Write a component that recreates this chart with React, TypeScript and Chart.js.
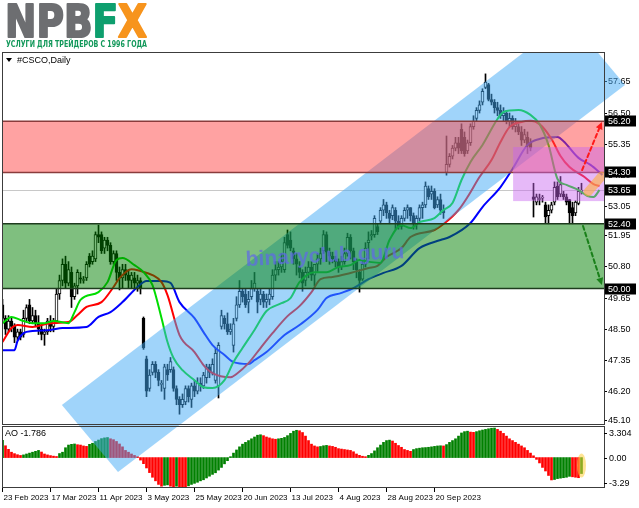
import React, { useEffect, useRef } from 'react';
import { Chart, registerables } from 'chart.js';

Chart.register(...registerables);

// ---------- texts ----------
const SYMBOL_LABEL = '#CSCO,Daily';
const AO_LABEL = 'AO -1.786';
const LOGO_PARTS: [string, string][] = [['NPB', '#6d6e71'], ['F', '#0e9f6e'], ['X', '#f7941d']];
const LOGO_TAGLINE = 'УСЛУГИ ДЛЯ ТРЕЙДЕРОВ С 1996 ГОДА';
const WATERMARK = 'binaryclub.guru';

// ---------- axes ----------
const TICK_BARS = [0, 16, 32, 48, 64, 80, 96, 112, 128, 144];
const X_TICK_LABELS = ['23 Feb 2023', '17 Mar 2023', '11 Apr 2023', '3 May 2023', '25 May 2023', '20 Jun 2023', '13 Jul 2023', '4 Aug 2023', '28 Aug 2023', '20 Sep 2023'];
const PRICE_TICKS = [57.65, 56.5, 55.35, 54.2, 53.05, 51.95, 50.8, 49.65, 48.5, 47.35, 46.2, 45.1];
const LEVELS = [56.2, 54.3, 53.65, 52.4, 50.0];
const BID = 53.65;
const AO_TICKS = [3.304, 0, -3.29];
const AO_TICK_LABELS = ['3.304', '0.00', '-3.29'];

// ---------- candles: [open, high, low, close], one per daily bar ----------
const CANDLES: number[][] = [
  [49.4, 49.6, 48.8, 48.9], [48.9, 49.0, 48.3, 48.5], [48.5, 49.0, 48.4, 48.8], [48.8, 48.9, 48.4, 48.6],
  [48.6, 48.7, 48.0, 48.2], [48.2, 48.5, 48.1, 48.4], [48.4, 48.5, 48.1, 48.2], [48.3, 49.2, 48.2, 48.9],
  [48.9, 49.4, 48.8, 49.3], [49.4, 49.6, 48.7, 48.8], [48.8, 49.3, 48.7, 49.0], [49.0, 49.2, 48.6, 48.7],
  [48.7, 49.0, 48.3, 48.5], [48.5, 48.7, 48.1, 48.3], [48.3, 48.5, 47.9, 48.4], [48.4, 48.9, 48.3, 48.8],
  [48.8, 49.0, 48.4, 48.6], [48.6, 48.9, 48.4, 48.8], [48.8, 50.0, 48.7, 49.8], [49.8, 50.5, 49.6, 50.3],
  [50.3, 51.1, 50.1, 50.9], [50.9, 51.2, 50.0, 50.2], [50.2, 51.0, 50.1, 50.7], [50.6, 50.8, 49.3, 49.7],
  [49.7, 50.2, 49.6, 50.1], [50.1, 50.7, 49.8, 50.6], [50.4, 50.6, 50.2, 50.35], [50.3, 50.45, 50.2, 50.3],
  [50.4, 51.0, 50.3, 50.9], [51.2, 51.3, 50.8, 50.9], [51.0, 51.4, 50.9, 51.2], [51.1, 52.1, 51.0, 52.0],
  [52.0, 52.35, 51.7, 51.9], [52.0, 52.1, 51.3, 51.4], [51.5, 51.9, 51.3, 51.8], [51.8, 51.9, 51.4, 51.6],
  [51.6, 51.7, 50.9, 51.0], [51.0, 51.4, 50.9, 51.3], [51.3, 51.4, 50.3, 50.6], [50.6, 50.8, 49.95, 50.4],
  [50.4, 50.9, 50.0, 50.7], [50.7, 50.9, 50.3, 50.5], [50.5, 50.7, 50.0, 50.3], [50.3, 50.6, 50.0, 50.5],
  [50.4, 50.6, 50.0, 50.2], [50.2, 50.5, 49.9, 50.3], [50.3, 50.4, 49.8, 50.0], [48.9, 48.95, 47.75, 47.8],
  [47.4, 47.5, 46.0, 46.2], [46.3, 47.0, 46.2, 46.8], [46.9, 47.3, 46.8, 47.2], [47.2, 47.3, 46.7, 46.9],
  [46.9, 47.0, 46.4, 46.6], [46.45, 46.6, 46.2, 46.5], [46.3, 47.2, 45.9, 47.1], [47.0, 47.2, 46.6, 46.8],
  [47.0, 47.45, 46.9, 47.3], [47.0, 47.1, 46.2, 46.3], [46.3, 46.4, 45.7, 45.9], [45.9, 46.0, 45.35, 45.7],
  [45.7, 46.1, 45.6, 45.9], [45.8, 46.4, 45.7, 46.3], [46.3, 46.4, 45.8, 46.0], [45.9, 46.5, 45.6, 46.4],
  [46.4, 46.6, 46.0, 46.2], [46.2, 46.7, 46.1, 46.5], [46.5, 46.7, 46.2, 46.4], [46.4, 46.9, 46.3, 46.8],
  [46.7, 47.2, 46.5, 47.1], [47.1, 47.2, 46.7, 46.9], [46.9, 47.4, 46.8, 47.2], [46.6, 47.8, 46.5, 47.6],
  [46.4, 48.0, 45.95, 47.9], [48.6, 49.2, 48.5, 49.0], [48.9, 49.0, 48.5, 48.7], [48.7, 49.1, 48.3, 48.4],
  [48.4, 48.7, 48.3, 48.5], [47.9, 48.9, 47.65, 48.7], [48.9, 49.7, 48.8, 49.4], [49.4, 50.3, 49.3, 49.9],
  [49.9, 50.0, 49.5, 49.7], [49.8, 50.0, 49.3, 49.4], [49.5, 49.9, 49.1, 49.6], [49.7, 50.3, 49.6, 50.0],
  [50.0, 50.6, 49.9, 50.2], [49.9, 50.0, 49.1, 49.5], [49.6, 50.0, 49.4, 49.8], [49.8, 49.9, 49.3, 49.5],
  [49.5, 49.8, 49.3, 49.6], [49.6, 50.0, 49.4, 49.8], [49.7, 50.7, 49.6, 50.5], [50.5, 51.0, 50.3, 50.7],
  [50.7, 51.0, 50.5, 50.8], [50.8, 51.3, 50.6, 51.0], [50.7, 51.9, 50.6, 51.7], [52.0, 52.17, 51.5, 51.6],
  [51.8, 52.1, 51.4, 51.5], [51.4, 51.5, 50.9, 51.1], [51.1, 51.3, 50.5, 50.9], [50.8, 51.0, 50.4, 50.6],
  [50.6, 50.7, 49.9, 50.2], [50.3, 50.8, 50.1, 50.6], [50.6, 51.0, 50.4, 50.8], [50.8, 51.0, 50.3, 50.5],
  [50.5, 50.9, 50.1, 50.9], [50.9, 51.3, 50.6, 51.1], [51.1, 51.5, 50.9, 51.3], [51.4, 52.15, 51.3, 52.0],
  [52.0, 52.1, 51.0, 51.35], [51.35, 51.5, 50.9, 51.2], [51.2, 51.35, 50.95, 51.1], [51.1, 51.2, 50.8, 51.0],
  [51.0, 51.1, 50.6, 50.8], [50.8, 51.2, 50.7, 51.0], [51.0, 51.5, 50.9, 51.3], [51.3, 52.05, 51.2, 51.9],
  [51.9, 52.0, 51.1, 51.4], [51.4, 51.5, 50.7, 51.0], [51.0, 51.1, 50.4, 50.7], [50.6, 50.7, 49.87, 50.3],
  [50.35, 51.0, 50.3, 50.9], [50.9, 51.7, 50.8, 51.5], [51.7, 52.1, 51.1, 51.8], [51.95, 52.15, 51.8, 52.0],
  [52.0, 52.7, 51.9, 52.6], [52.3, 52.4, 52.0, 52.1], [52.5, 53.0, 52.4, 52.9], [52.9, 53.3, 52.7, 53.1],
  [53.1, 53.2, 52.6, 52.8], [52.8, 52.9, 52.4, 52.6], [52.7, 53.1, 52.55, 53.0], [52.9, 53.0, 52.2, 52.5],
  [52.5, 52.7, 52.2, 52.3], [52.3, 52.7, 52.2, 52.6], [52.6, 53.0, 52.5, 52.9], [52.9, 53.1, 52.6, 53.0],
  [53.0, 53.0, 52.5, 52.7], [52.7, 52.8, 52.2, 52.4], [52.4, 52.7, 52.2, 52.6], [52.6, 53.1, 52.5, 53.0],
  [53.0, 53.2, 52.6, 53.1], [53.1, 53.95, 53.0, 53.8], [53.7, 53.8, 53.3, 53.4], [53.5, 53.8, 53.3, 53.6],
  [53.6, 53.7, 52.95, 53.0], [53.1, 53.4, 53.0, 53.3], [53.3, 53.5, 52.75, 52.9], [52.9, 53.1, 52.6, 52.8],
  [54.3, 55.65, 54.2, 54.6], [54.6, 55.0, 54.5, 54.9], [54.9, 55.3, 54.8, 55.2], [55.2, 55.6, 55.1, 55.4],
  [55.4, 55.6, 55.0, 55.2], [55.9, 56.1, 55.0, 55.1], [55.6, 55.8, 54.9, 55.0], [55.1, 55.5, 55.0, 55.4],
  [55.4, 56.1, 55.3, 56.0], [56.0, 56.4, 55.9, 56.2], [56.3, 56.7, 56.2, 56.6], [56.6, 56.95, 56.5, 56.8],
  [56.9, 57.4, 56.8, 57.3], [57.45, 57.95, 57.4, 57.65], [57.55, 57.6, 56.95, 57.0], [57.0, 57.2, 56.8, 56.9],
  [56.9, 57.0, 56.5, 56.7], [56.7, 56.9, 56.4, 56.6], [56.6, 56.8, 56.3, 56.4], [56.4, 56.7, 56.2, 56.5],
  [56.5, 56.6, 56.1, 56.2], [56.2, 56.5, 56.0, 56.3], [56.3, 56.4, 55.9, 56.0], [56.0, 56.3, 55.8, 56.1],
  [56.0, 56.1, 55.7, 55.8], [55.8, 56.0, 55.3, 55.5], [55.5, 55.9, 55.4, 55.7], [55.6, 55.8, 55.0, 55.3],
  [55.4, 55.55, 55.1, 55.2], [53.4, 53.9, 52.65, 53.3], [53.2, 53.5, 53.1, 53.4], [53.3, 53.5, 53.1, 53.3],
  [53.35, 53.45, 53.2, 53.35], [53.1, 53.2, 52.43, 52.65], [52.7, 53.1, 52.4, 52.9], [52.9, 53.2, 52.8, 53.1],
  [53.2, 53.95, 53.1, 53.75], [53.8, 53.95, 53.3, 53.4], [53.5, 54.15, 53.4, 53.85], [53.5, 53.6, 53.3, 53.4],
  [53.4, 53.5, 53.1, 53.2], [53.3, 53.3, 52.4, 52.8], [53.0, 53.2, 52.4, 52.7], [52.8, 53.25, 52.7, 53.2],
  [53.15, 53.75, 53.1, 53.6], [53.6, 53.9, 53.5, 53.65],
];

// ---------- Alligator lines: [bar, price] ----------
const JAW: [number, number][] = [
  [0, 47.72], [4, 47.72], [5, 48.06], [7, 48.35], [10, 48.43], [16, 48.47], [20, 48.54], [28, 48.58], [32, 48.95],
  [36, 49.13], [40, 49.5], [45, 50.06], [48, 50.28], [53, 50.28], [56, 50.21], [59, 49.5], [64, 48.91], [67, 48.39],
  [70, 47.91], [74, 47.54], [77, 47.28], [82, 47.21], [84, 47.35], [88, 47.65], [94, 48.28], [99, 48.65], [105, 49.21],
  [108, 49.65], [113, 49.84], [117, 50.02], [122, 50.35], [127, 50.58], [133, 50.84], [139, 51.5], [146, 51.8],
  [149, 51.91], [156, 52.43], [160, 53.02], [166, 53.76], [170, 54.43], [175, 55.32], [179, 55.54], [185, 55.61],
  [187, 55.46], [192, 54.84], [196, 54.58], [200, 54.21],
];
const TEETH: [number, number][] = [
  [0, 48.02], [3, 48.54], [5, 48.65], [10, 48.58], [16, 48.72], [22, 48.76], [25, 49.02], [28, 49.32], [33, 49.5],
  [37, 50.06], [39, 50.39], [43, 50.72], [46, 50.65], [50, 50.5], [53, 50.24], [55, 49.76], [59, 48.28], [64, 47.65],
  [67, 47.17], [70, 46.87], [76, 46.72], [78, 46.84], [82, 47.24], [86, 47.8], [90, 48.35], [95, 48.98], [99, 49.35],
  [103, 49.87], [106, 50.35], [110, 50.43], [116, 50.58], [122, 50.76], [125, 50.84], [128, 51.17], [133, 51.5],
  [136, 51.91], [144, 52.17], [147, 52.39], [152, 52.91], [155, 53.39], [159, 54.13], [163, 54.76], [166, 55.43],
  [169, 55.98], [173, 56.17], [176, 56.21], [179, 56.09], [183, 55.54], [186, 54.91], [189, 54.5], [194, 54.13],
  [197, 53.87], [199, 53.8],
];
const LIPS: [number, number][] = [
  [0, 48.72], [3, 48.95], [6, 48.84], [10, 48.72], [14, 48.72], [17, 48.8], [22, 48.72], [24, 49.13], [26, 49.58],
  [32, 49.87], [35, 50.24], [38, 51.06], [40, 51.13], [44, 50.87], [47, 50.61], [50, 50.13], [53, 48.91], [55, 48.02],
  [57, 47.43], [60, 46.98], [64, 46.61], [67, 46.35], [70, 46.32], [74, 46.61], [77, 47.28], [80, 47.8], [84, 48.47],
  [88, 49.17], [93, 49.46], [96, 49.65], [99, 50.24], [104, 50.61], [108, 50.61], [112, 50.8], [116, 50.87],
  [119, 51.06], [123, 50.98], [126, 50.95], [129, 51.8], [133, 52.35], [136, 52.24], [139, 52.46], [144, 52.61],
  [147, 52.91], [150, 53.17], [153, 54.02], [156, 54.69], [160, 55.32], [165, 56.28], [167, 56.54], [172, 56.61],
  [176, 56.43], [179, 56.09], [182, 55.32], [185, 54.06], [188, 53.84], [192, 53.65], [195, 53.43], [197, 53.39],
  [199, 53.65],
];

// ---------- Awesome Oscillator, one per bar ----------
const AO: number[] = [
  1.92, 1.32, 0.92, 0.6, 0.44, 0.32, 0.24, 0.3, 0.4, 0.5, 0.6, 0.7, 0.8, 0.62, 0.4, 0.3, 0.22, 0.16, 0.12, 0.45,
  0.6, 1.1, 1.4, 1.48, 1.52, 1.44, 1.4, 1.3, 1.25, 1.48, 1.6, 1.8, 1.96, 2.12, 2.2, 2.24, 2.1, 2.0, 1.8, 1.52,
  1.2, 0.8, 0.6, 0.4, 0.24, 0.1, -0.28, -0.68, -1.16, -1.68, -2.2, -2.6, -3.0, -3.2, -3.1, -3.05, -3.2, -3.29, -3.2, -3.25,
  -3.28, -3.29, -3.16, -3.0, -2.88, -2.76, -2.6, -2.48, -2.28, -2.08, -1.88, -1.7, -1.4, -1.1, -0.7, -0.35, 0.1, 0.5, 0.85, 1.2,
  1.5, 1.7, 1.9, 2.1, 2.3, 2.5, 2.55, 2.45, 2.3, 2.2, 2.1, 2.05, 2.1, 2.15, 2.25, 2.45, 2.7, 2.95, 3.05, 3.0,
  2.8, 2.4, 1.9, 1.5, 1.3, 1.2, 1.24, 1.32, 1.36, 1.3, 1.25, 1.15, 1.0, 0.95, 0.9, 0.85, 0.8, 0.65, 0.4, 0.25,
  0.15, 0.1, 0.25, 0.45, 0.75, 1.1, 1.4, 1.7, 1.9, 1.95, 1.85, 1.6, 1.35, 1.15, 0.9, 0.8, 0.7, 0.9, 1.0, 1.05,
  1.1, 1.12, 1.15, 1.2, 1.25, 1.3, 1.32, 1.3, 1.45, 1.7, 1.9, 2.1, 2.4, 2.75, 2.9, 2.95, 2.85, 2.82, 2.9, 3.0,
  3.08, 3.15, 3.22, 3.28, 3.304, 3.15, 2.95, 2.7, 2.4, 2.1, 1.9, 1.7, 1.5, 1.3, 1.1, 0.8, 0.5, 0.2, -0.2, -0.6,
  -1.1, -1.5, -2.0, -2.5, -2.45, -2.35, -2.3, -2.25, -2.2, -2.1, -2.15, -2.2, -2.25, -1.786,
];

// ---------- drawn objects (bar index, price) ----------
const RED_ZONE = [54.3, 56.2];
const GREEN_ZONE = [50.0, 52.4];
const VIOLET_BOX = [170.2, 201, 53.24, 55.24];
const CHANNEL: [number, number][] = [[19.8, 45.69], [38.5, 43.21], [207.5, 57.54], [188.8, 60.02]];
const RED_ARROW: [number, number][] = [[193.2, 54.39], [199.8, 56.17]];
const GREEN_ARROW: [number, number][] = [[193.5, 52.32], [199.8, 50.13]];
const ORANGE_MARK: [number, number][] = [[195.2, 53.58], [199.8, 54.17]];
const WATERMARK_AT: [number, number] = [107.5, 51.2];

const FONT = '"Liberation Sans", Arial, sans-serif';

function drawArrow(ctx: CanvasRenderingContext2D, x1: number, y1: number, x2: number, y2: number, color: string) {
  const ang = Math.atan2(y2 - y1, x2 - x1);
  const head = 8;
  ctx.save();
  ctx.strokeStyle = color;
  ctx.fillStyle = color;
  ctx.lineWidth = 2;
  ctx.setLineDash([4, 3]);
  ctx.beginPath();
  ctx.moveTo(x1, y1);
  ctx.lineTo(x2 - Math.cos(ang) * head * 0.8, y2 - Math.sin(ang) * head * 0.8);
  ctx.stroke();
  ctx.setLineDash([]);
  ctx.beginPath();
  ctx.moveTo(x2, y2);
  ctx.lineTo(x2 - head * Math.cos(ang - 0.45), y2 - head * Math.sin(ang - 0.45));
  ctx.lineTo(x2 - head * Math.cos(ang + 0.45), y2 - head * Math.sin(ang + 0.45));
  ctx.closePath();
  ctx.fill();
  ctx.restore();
}

const overlayPlugin = {
  id: 'mt4overlay',
  beforeDraw(chart: any) {
    const { ctx } = chart;
    ctx.save();
    ctx.fillStyle = '#ffffff';
    ctx.fillRect(0, 0, chart.width, chart.height);
    ctx.restore();
  },
  beforeDatasetsDraw(chart: any) {
    const { ctx, chartArea: ca, scales } = chart;
    const y = Math.round(scales.y.getPixelForValue(BID)) + 0.5;
    ctx.save();
    ctx.strokeStyle = '#c8c8c8';
    ctx.lineWidth = 1;
    ctx.beginPath();
    ctx.moveTo(ca.left, y);
    ctx.lineTo(ca.right, y);
    ctx.stroke();
    ctx.restore();
  },
  afterDatasetsDraw(chart: any) {
    const { ctx, chartArea: ca, scales } = chart;
    const sx = scales.x;
    const sy = scales.y;
    const px = (b: number) => sx.getPixelForValue(b);
    const py = (p: number) => sy.getPixelForValue(p);

    // channel
    ctx.save();
    ctx.beginPath();
    ctx.rect(ca.left, ca.top, chart.width - ca.left, ca.bottom - ca.top);
    ctx.clip();
    ctx.fillStyle = 'rgba(66,170,245,0.5)';
    ctx.beginPath();
    CHANNEL.forEach(([b, p], k) => (k ? ctx.lineTo(px(b), py(p)) : ctx.moveTo(px(b), py(p))));
    ctx.closePath();
    ctx.fill();
    ctx.restore();

    // main-pane objects
    ctx.save();
    ctx.beginPath();
    ctx.rect(ca.left, ca.top, ca.right - ca.left, sy.bottom - ca.top);
    ctx.clip();
    const zone = (z: number[], fill: string, stroke: string) => {
      const t = py(z[1]);
      const b = py(z[0]);
      ctx.fillStyle = fill;
      ctx.fillRect(ca.left, t, ca.right - ca.left, b - t);
      ctx.strokeStyle = stroke;
      ctx.lineWidth = 1.5;
      ctx.beginPath();
      ctx.moveTo(ca.left, t);
      ctx.lineTo(ca.right, t);
      ctx.moveTo(ca.left, b);
      ctx.lineTo(ca.right, b);
      ctx.stroke();
    };
    zone(RED_ZONE, 'rgba(255,70,70,0.5)', '#8a3c3c');
    zone(GREEN_ZONE, 'rgba(0,128,0,0.5)', '#1e3c1e');

    ctx.fillStyle = 'rgba(200,100,240,0.45)';
    ctx.fillRect(px(VIOLET_BOX[0]), py(VIOLET_BOX[3]), px(VIOLET_BOX[1]) - px(VIOLET_BOX[0]), py(VIOLET_BOX[2]) - py(VIOLET_BOX[3]));

    // watermark
    ctx.save();
    ctx.translate(px(WATERMARK_AT[0]), py(WATERMARK_AT[1]));
    ctx.rotate(-0.05);
    ctx.font = `bold 21px ${FONT}`;
    ctx.fillStyle = 'rgba(95,105,230,0.72)';
    ctx.textAlign = 'center';
    ctx.textBaseline = 'middle';
    ctx.fillText(WATERMARK, 0, 0);
    ctx.restore();

    // orange mark
    ctx.strokeStyle = 'rgba(255,175,60,0.6)';
    ctx.lineWidth = 9;
    ctx.lineCap = 'round';
    ctx.beginPath();
    ctx.moveTo(px(ORANGE_MARK[0][0]), py(ORANGE_MARK[0][1]));
    ctx.lineTo(px(ORANGE_MARK[1][0]), py(ORANGE_MARK[1][1]));
    ctx.stroke();

    drawArrow(ctx, px(RED_ARROW[0][0]), py(RED_ARROW[0][1]), px(RED_ARROW[1][0]), py(RED_ARROW[1][1]), '#ff1a1a');
    drawArrow(ctx, px(GREEN_ARROW[0][0]), py(GREEN_ARROW[0][1]), px(GREEN_ARROW[1][0]), py(GREEN_ARROW[1][1]), '#1a801a');
    ctx.restore();

    // AO last-bar highlight
    const sa = scales.yAO;
    const last = AO.length - 1;
    const y0 = sa.getPixelForValue(0);
    const y1 = sa.getPixelForValue(AO[last]);
    ctx.save();
    ctx.fillStyle = 'rgba(255,205,60,0.55)';
    ctx.beginPath();
    ctx.ellipse(px(last), (y0 + y1) / 2, 4.5, Math.abs(y1 - y0) / 2 + 4, 0, 0, Math.PI * 2);
    ctx.fill();
    ctx.restore();
  },
  afterDraw(chart: any) {
    const { ctx, chartArea: ca, scales } = chart;
    const sy = scales.y;
    const sa = scales.yAO;
    ctx.save();

    // frames
    ctx.strokeStyle = '#3c3c3c';
    ctx.lineWidth = 1;
    ctx.strokeRect(ca.left + 0.5, ca.top + 0.5, ca.right - ca.left, Math.round(sy.bottom) - ca.top - 1);
    ctx.strokeRect(ca.left + 0.5, Math.round(sa.top) + 1.5, ca.right - ca.left, Math.round(sa.bottom) - Math.round(sa.top) - 2);

    // level boxes
    ctx.font = `9px ${FONT}`;
    ctx.textBaseline = 'middle';
    ctx.textAlign = 'left';
    LEVELS.forEach((v) => {
      const y = Math.round(sy.getPixelForValue(v));
      ctx.fillStyle = '#000';
      ctx.fillRect(ca.right + 1, y - 5.5, 31, 11);
      ctx.fillStyle = '#fff';
      ctx.fillText(v.toFixed(2), ca.right + 4, y + 0.5);
    });

    // AO labels
    const offs = [5, 0, -4];
    AO_TICKS.forEach((v, k) => {
      const y = Math.round(sa.getPixelForValue(v)) + offs[k];
      ctx.fillStyle = '#000';
      ctx.fillRect(ca.right, y, 3, 1);
      ctx.fillText(AO_TICK_LABELS[k], ca.right + 5, y + 0.5);
    });

    // header texts
    ctx.fillStyle = '#000';
    ctx.beginPath();
    ctx.moveTo(6, 58);
    ctx.lineTo(12, 58);
    ctx.lineTo(9, 62);
    ctx.closePath();
    ctx.fill();
    ctx.fillText(SYMBOL_LABEL, 17, 60.5);
    ctx.fillText(AO_LABEL, 5, Math.round(sa.top) + 9);

    // logo
    ctx.font = `bold 44px "DejaVu Sans", sans-serif`;
    ctx.textBaseline = 'alphabetic';
    const total = LOGO_PARTS.reduce((s, [t]) => s + ctx.measureText(t).width, 0);
    ctx.save();
    ctx.translate(5, 37);
    ctx.scale(142 / total, 1);
    let xx = 0;
    LOGO_PARTS.forEach(([t, c]) => {
      ctx.fillStyle = c;
      ctx.strokeStyle = c;
      ctx.lineWidth = 2;
      ctx.lineJoin = 'round';
      ctx.strokeText(t, xx, 0);
      ctx.fillText(t, xx, 0);
      xx += ctx.measureText(t).width;
    });
    ctx.restore();
    ctx.font = `bold 8.5px "DejaVu Sans", sans-serif`;
    const tw = ctx.measureText(LOGO_TAGLINE).width;
    ctx.save();
    ctx.translate(6, 47);
    ctx.scale(141 / tw, 1);
    ctx.fillStyle = '#12985a';
    ctx.fillText(LOGO_TAGLINE, 0, 0);
    ctx.restore();

    ctx.restore();
  },
};

export default function App() {
  const ref = useRef<HTMLCanvasElement>(null);

  useEffect(() => {
    const canvas = ref.current;
    if (!canvas) return;

    const bodies = CANDLES.map((c, i) => ({ x: i, y: [c[0], c[3]] }));
    const bodyColors = CANDLES.map((c) => (c[3] >= c[0] ? '#ffffff' : '#000000'));
    const wicks = CANDLES.map((c, i) => ({ x: i, y: [c[2], c[1]] }));
    const aoData = AO.map((v, i) => ({ x: i, y: v }));
    const aoColors = AO.map((v, i) => (i === 0 || v >= AO[i - 1] ? '#008000' : '#ff0000'));
    const line = (pts: [number, number][], color: string) => ({
      type: 'line' as const,
      data: pts.map(([b, p]) => ({ x: b, y: p })),
      borderColor: color,
      borderWidth: 2,
      pointRadius: 0,
      cubicInterpolationMode: 'monotone' as const,
      yAxisID: 'y',
      order: 0,
    });

    const chart = new Chart(canvas, {
      type: 'bar',
      data: {
        datasets: [
          line(LIPS, '#00dd00') as any,
          line(TEETH, '#ff0000') as any,
          line(JAW, '#0000ff') as any,
          {
            type: 'bar',
            data: bodies as any,
            backgroundColor: bodyColors,
            borderColor: '#000000',
            borderWidth: 1,
            borderSkipped: false,
            barThickness: 3,
            minBarLength: 1,
            grouped: false,
            yAxisID: 'y',
            order: 1,
          },
          {
            type: 'bar',
            data: wicks as any,
            backgroundColor: '#000000',
            barThickness: 1,
            grouped: false,
            yAxisID: 'y',
            order: 2,
          },
          {
            type: 'bar',
            data: aoData as any,
            backgroundColor: aoColors,
            barThickness: 2,
            grouped: false,
            yAxisID: 'yAO',
            order: 3,
          },
        ],
      },
      options: {
        animation: false,
        responsive: false,
        maintainAspectRatio: false,
        events: [],
        layout: { padding: { left: 2, top: 52, right: 0, bottom: 0 } },
        plugins: { legend: { display: false }, tooltip: { enabled: false } },
        scales: {
          x: {
            type: 'linear',
            min: -1 / 6,
            max: 200.5,
            offset: false,
            bounds: 'data',
            grid: { display: true, offset: false, drawOnChartArea: false, drawTicks: true, tickLength: 4, color: '#000' },
            border: { display: false },
            ticks: {
              autoSkip: false,
              maxRotation: 0,
              align: 'start',
              labelOffset: 1,
              padding: 1,
              color: '#000',
              font: { family: FONT, size: 8 },
              callback: (v: any) => {
                const k = TICK_BARS.indexOf(Number(v));
                return k >= 0 ? X_TICK_LABELS[k] : '';
              },
            },
            afterBuildTicks: (s: any) => {
              s.ticks = TICK_BARS.map((v) => ({ value: v }));
            },
            afterFit: (s: any) => {
              s.height = 20;
            },
          } as any,
          y: {
            type: 'linear',
            position: 'right',
            stack: 'panes',
            stackWeight: 373,
            min: 44.95,
            max: 58.76,
            bounds: 'data',
            z: 1,
            grid: { display: true, drawOnChartArea: false, drawTicks: true, tickLength: 3, color: '#000' },
            border: { display: false },
            ticks: {
              autoSkip: false,
              padding: 1,
              color: '#000',
              font: { family: FONT, size: 9 },
              callback: (v: any) => Number(v).toFixed(2),
            },
            afterBuildTicks: (s: any) => {
              s.ticks = PRICE_TICKS.map((v) => ({ value: v }));
            },
            afterFit: (s: any) => {
              s.width = 35;
            },
          } as any,
          yAO: {
            type: 'linear',
            position: 'right',
            stack: 'panes',
            stackWeight: 63,
            min: -3.4,
            max: 3.64,
            bounds: 'data',
            grid: { display: false },
            border: { display: false },
            ticks: { display: false },
            afterFit: (s: any) => {
              s.width = 35;
            },
          } as any,
        },
      },
      plugins: [overlayPlugin],
    });

    return () => chart.destroy();
  }, []);

  return (
    <div style={{ position: 'fixed', left: 0, top: 0, width: 639, height: 508, background: '#fff' }}>
      <canvas ref={ref} width={639} height={508} style={{ display: 'block', width: 639, height: 508 }} />
    </div>
  );
}
